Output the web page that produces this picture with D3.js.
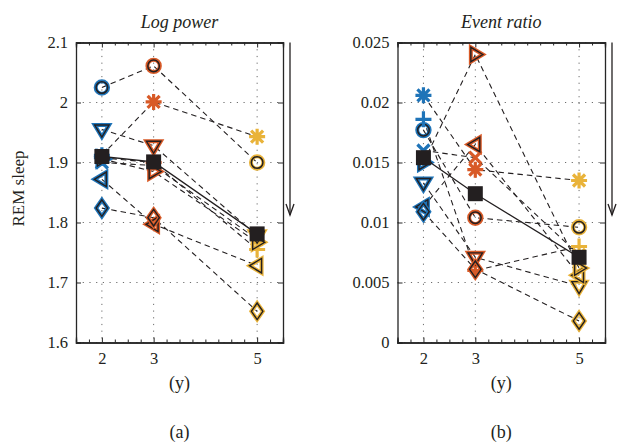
<!DOCTYPE html>
<html><head><meta charset="utf-8">
<script src="https://cdn.jsdelivr.net/npm/d3@7"></script>
<style>body{margin:0;background:#fff}svg{display:block}text{font-family:"Liberation Serif","DejaVu Serif",serif;fill:#231f20}</style>
</head><body>
<script>
// ---- data ----
const ages = [2, 3, 5];
const ageColors = ["#1f74b8", "#d85a27", "#e9b33a"];
const markerTypes = ["o", "*", "+", "x", "v", "<", ">", "d"];
// rows follow markerTypes, columns follow ages
const logPowerValues = [
  [2.025, 2.061, 1.900],
  [1.912, 2.001, 1.943],
  [1.908, 1.900, 1.755],
  [1.900, 1.895, 1.772],
  [1.955, 1.928, 1.778],
  [1.872, 1.797, 1.728],
  [1.906, 1.885, 1.767],
  [1.824, 1.808, 1.652]
];
const logPowerMean = [1.910, 1.901, 1.781];
const eventRatioValues = [
  [0.0177, 0.0104, 0.0096],
  [0.0206, 0.0144, 0.0135],
  [0.0186, 0.0060, 0.0080],
  [0.0160, 0.0154, 0.0073],
  [0.0133, 0.0071, 0.0047],
  [0.0113, 0.0165, 0.0056],
  [0.0150, 0.0240, 0.0062],
  [0.0109, 0.0061, 0.0018]
];
const eventRatioMean = [0.0154, 0.0124, 0.0071];
const logPowerTicks = [1.6, 1.7, 1.8, 1.9, 2, 2.1];
const eventRatioTicks = [0, 0.005, 0.01, 0.015, 0.02, 0.025];
const xTicks = [2, 3, 5];
const panelTitles = ["Log power", "Event ratio"];
const panelLetters = ["(a)", "(b)"];
const xLabel = "(y)";
const yLabel = "REM sleep";

// ---- drawing ----
const W = 629, H = 444;
const FONT = '"Liberation Serif","DejaVu Serif",serif';
const svg = d3.select("body").append("svg").attr("width", W).attr("height", H);
const plotTop = 42.5, plotBottom = 342.5;

function markerPath(type, s) {
  switch (type) {
    case "o": return null;
    case "v": return `M${-s},${-s*0.62}L${s},${-s*0.62}L0,${s*1.05}Z`;
    case "<": return `M${-s*1.05},0L${s*0.62},${-s}L${s*0.62},${s}Z`;
    case ">": return `M${s*1.05},0L${-s*0.62},${-s}L${-s*0.62},${s}Z`;
    case "d": return `M0,${-s*1.15}L${s*0.8},0L0,${s*1.15}L${-s*0.8},0Z`;
    case "+": return `M${-s},0L${s},0M0,${-s}L0,${s}`;
    case "x": { const a = s*0.75; return `M${-a},${-a}L${a},${a}M${-a},${a}L${a},${-a}`; }
    case "*": { const a = s*0.75; return `M${-s},0L${s},0M0,${-s}L0,${s}M${-a},${-a}L${a},${a}M${-a},${a}L${a},${-a}`; }
  }
}

function drawMarker(g, type, x, y, color) {
  const s = 7.2;
  if (type === "o") {
    g.append("circle").attr("cx", x).attr("cy", y).attr("r", 6.2)
      .attr("fill", "none").attr("stroke", color).attr("stroke-width", 4);
    g.append("circle").attr("cx", x).attr("cy", y).attr("r", 5.8)
      .attr("fill", "none").attr("stroke", "#231f20").attr("stroke-width", 1.5);
  } else if (type === "+" || type === "x" || type === "*") {
    g.append("path").attr("transform", `translate(${x},${y})`).attr("d", markerPath(type, 8))
      .attr("fill", "none").attr("stroke", color).attr("stroke-width", 3.2);
  } else {
    g.append("path").attr("transform", `translate(${x},${y})`).attr("d", markerPath(type, s))
      .attr("fill", "none").attr("stroke", color).attr("stroke-width", 4).attr("stroke-linejoin", "miter");
    g.append("path").attr("transform", `translate(${x},${y})`).attr("d", markerPath(type, s))
      .attr("fill", "none").attr("stroke", "#231f20").attr("stroke-width", 1.4);
  }
}

function panel(x0, x1, domain, ticks, tickFmt, values, means, title, letter, showYLabel) {
  const x = d3.scaleLinear().domain([1.5, 5.5]).range([x0, x1]);
  const y = d3.scaleLinear().domain(domain).range([plotBottom, plotTop]);
  const g = svg.append("g");

  // grid
  g.selectAll(".gx").data(xTicks).join("line")
    .attr("x1", d => x(d)).attr("x2", d => x(d)).attr("y1", plotTop).attr("y2", plotBottom)
    .attr("stroke", "#6d6d6d").attr("stroke-width", 1).attr("stroke-dasharray", "1.2,5.5");
  g.selectAll(".gy").data(ticks).join("line")
    .attr("x1", x0).attr("x2", x1).attr("y1", d => y(d)).attr("y2", d => y(d))
    .attr("stroke", "#6d6d6d").attr("stroke-width", 1).attr("stroke-dasharray", "1.2,5.5");

  // axes (box with inward ticks)
  const ax = g.append("g");
  ax.append("g").attr("transform", `translate(0,${plotBottom})`)
    .call(d3.axisBottom(x).tickValues(xTicks).tickSize(-5).tickPadding(10).tickFormat(d3.format("d")));
  ax.append("g").attr("transform", `translate(0,${plotTop})`)
    .call(d3.axisTop(x).tickValues(xTicks).tickSize(-5).tickFormat(""));
  ax.append("g").attr("transform", `translate(${x0},0)`)
    .call(d3.axisLeft(y).tickValues(ticks).tickSize(-5).tickPadding(8).tickFormat(tickFmt));
  ax.append("g").attr("transform", `translate(${x1},0)`)
    .call(d3.axisRight(y).tickValues(ticks).tickSize(-5).tickFormat(""));
  const minor = d3.range(1.75, 5.5, 0.25).filter(v => !xTicks.includes(v));
  ax.append("g").attr("transform", `translate(0,${plotTop})`)
    .call(d3.axisTop(x).tickValues(minor).tickSize(-3).tickFormat(""));
  ax.append("g").attr("transform", `translate(0,${plotBottom})`)
    .call(d3.axisBottom(x).tickValues(minor).tickSize(-3).tickFormat(""));
  ax.selectAll("g").attr("font-family", FONT);
  ax.selectAll(".domain").attr("stroke", "#262626").attr("stroke-width", 1.3);
  ax.selectAll(".tick line").attr("stroke", "#262626");
  ax.selectAll(".tick text").style("font-size", "16.5px").style("font-family", FONT).attr("fill", "#231f20");

  // subject lines
  const line = d3.line().x((d, i) => x(ages[i])).y(d => y(d));
  g.selectAll(".subj").data(values).join("path")
    .attr("d", line).attr("fill", "none").attr("stroke", "#231f20")
    .attr("stroke-width", 1.1).attr("stroke-dasharray", "5.5,4");

  // markers
  const mg = g.append("g");
  values.forEach((row, si) => {
    row.forEach((v, ai) => drawMarker(mg, markerTypes[si], x(ages[ai]), y(v), ageColors[ai]));
  });

  // mean
  g.append("path").datum(means).attr("d", line).attr("fill", "none")
    .attr("stroke", "#231f20").attr("stroke-width", 1.3);
  g.selectAll(".mean").data(means).join("rect")
    .attr("x", (d, i) => x(ages[i]) - 7.5).attr("y", d => y(d) - 7.5)
    .attr("width", 15).attr("height", 15).attr("fill", "#231f20");

  const cx = (x0 + x1) / 2;
  svg.append("text").attr("x", cx).attr("y", 28).attr("text-anchor", "middle")
    .style("font-size", "18px").style("font-style", "italic").text(title);
  svg.append("text").attr("x", cx).attr("y", 389).attr("text-anchor", "middle")
    .style("font-size", "18px").text(xLabel);
  svg.append("text").attr("x", cx).attr("y", 438).attr("text-anchor", "middle")
    .style("font-size", "18px").text(letter);

  // arrow to the right
  const axp = x1 + 7;
  svg.append("line").attr("x1", axp).attr("x2", axp).attr("y1", plotTop).attr("y2", 215)
    .attr("stroke", "#231f20").attr("stroke-width", 1.3);
  svg.append("path").attr("d", `M${axp-4},${204}L${axp},${215}L${axp+4},${204}`)
    .attr("fill", "none").attr("stroke", "#231f20").attr("stroke-width", 1.3);

  if (showYLabel) {
    svg.append("text").attr("transform", `translate(24,${(plotTop + plotBottom) / 2 - 4}) rotate(-90)`)
      .attr("text-anchor", "middle").style("font-size", "17px").text(yLabel);
  }
}

panel(76, 283, [1.6, 2.1], logPowerTicks, d3.format(""), logPowerValues, logPowerMean, panelTitles[0], panelLetters[0], true);
panel(397.5, 605, [0, 0.025], eventRatioTicks, d3.format(""), eventRatioValues, eventRatioMean, panelTitles[1], panelLetters[1], false);
</script>
</body></html>
